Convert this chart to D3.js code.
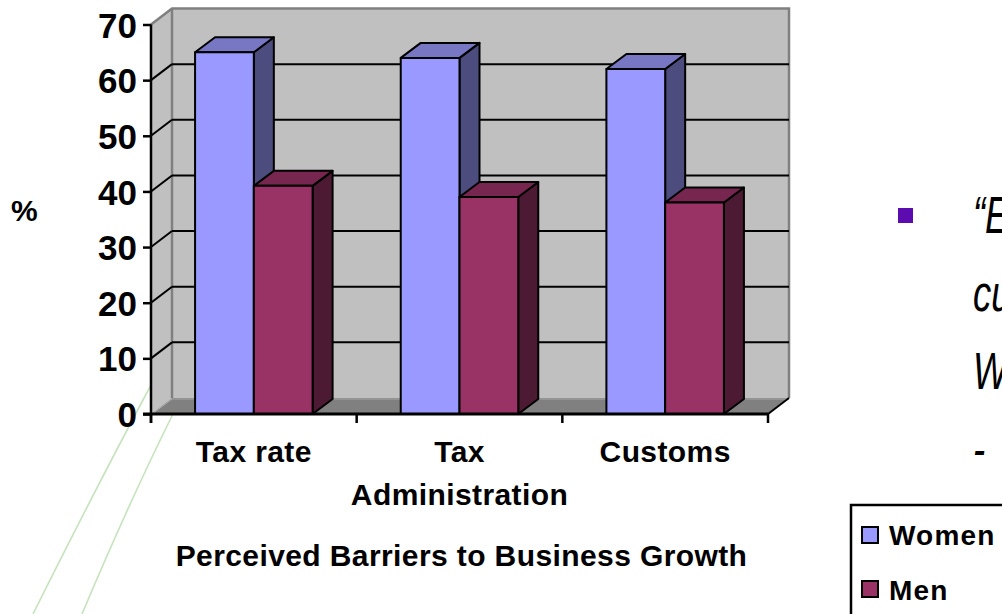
<!DOCTYPE html>
<html>
<head>
<meta charset="utf-8">
<script src="https://cdn.jsdelivr.net/npm/d3@7"></script>
<style>
  body { margin: 0; background: #fff; }
  text { font-family: Arial, "Liberation Sans", sans-serif; }
</style>
</head>
<body>
<svg></svg>
<script>
const categories = ['Tax rate', 'Tax\nAdministration', 'Customs'];
const series = ['Women', 'Men'];
const women = [65, 64, 62];
const men = [41, 39, 38];
const yTicks = [0, 10, 20, 30, 40, 50, 60, 70];
const quoteLines = ['\u201cE', 'cu', 'W', '- '];

const width = 1002;
const height = 614;

const colors = {
  Women: { front: '#9999FF', top: '#7777C4', side: '#4C4C7E' },
  Men: { front: '#993366', top: '#772650', side: '#4C1A33' }
};

const svg = d3.select('svg')
  .attr('width', width)
  .attr('height', height);

// wall depth offset
const dx = 21, dy = -16;
// bar depth offset
const bdx = 20, bdy = -15;

const y = d3.scaleLinear().domain([0, 70]).range([414, 24.5]);
const x0 = d3.scaleBand().domain(categories).range([151, 768]);
const x1 = d3.scaleBand().domain(series).range([0, x0.bandwidth()]).paddingOuter(0.75);

const left = x0.range()[0], right = x0.range()[1];

// faint decorative curves of the slide (run behind the walls)
const deco = svg.append('g').attr('fill', 'none').attr('stroke', '#c6e3bd').attr('stroke-width', 1.6);
deco.append('path').attr('d', 'M33,614 Q95,490 143,400 T170,340');
deco.append('path').attr('d', 'M82,614 Q128,505 170,420 T190,380');

// side wall
svg.append('polygon')
  .attr('points', [[left, y(0)], [left, y(70)], [left + dx, y(70) + dy], [left + dx, y(0) + dy]].join(' '))
  .attr('fill', '#C0C0C0');

// back wall
svg.append('rect')
  .attr('x', left + dx)
  .attr('y', y(70) + dy)
  .attr('width', right - left)
  .attr('height', y(0) - y(70))
  .attr('fill', '#C0C0C0');

// floor
svg.append('polygon')
  .attr('points', [[left, y(0)], [right, y(0)], [right + dx, y(0) + dy], [left + dx, y(0) + dy]].join(' '))
  .attr('fill', '#808080');
svg.append('line')
  .attr('x1', left + dx).attr('x2', right + dx)
  .attr('y1', y(0) + dy + 1).attr('y2', y(0) + dy + 1)
  .attr('stroke', '#a8a8a8').attr('stroke-width', 1);
svg.append('line')
  .attr('x1', left + 1).attr('y1', y(0))
  .attr('x2', left + dx).attr('y2', y(0) + dy + 1)
  .attr('stroke', '#b0b0b0').attr('stroke-width', 1);

// wall edges
svg.append('path')
  .attr('d', `M${left},${y(70)} L${left + dx},${y(70) + dy} L${right + dx},${y(70) + dy} L${right + dx},${y(0) + dy}`
    + ` M${left + dx},${y(70) + dy} L${left + dx},${y(0) + dy}`)
  .attr('fill', 'none')
  .attr('stroke', '#808080')
  .attr('stroke-width', 2.5);

// gridlines
const grid = svg.append('g').attr('stroke', '#000').attr('stroke-width', 2);
grid.selectAll('.gb')
  .data(yTicks.filter(t => t > 0 && t < 70))
  .enter().append('line')
    .attr('x1', left + dx).attr('x2', right + dx)
    .attr('y1', d => y(d) + dy).attr('y2', d => y(d) + dy);
grid.selectAll('.gs')
  .data(yTicks.filter(t => t > 0 && t < 70))
  .enter().append('line')
    .attr('x1', left).attr('x2', left + dx)
    .attr('y1', d => y(d)).attr('y2', d => y(d) + dy);

// bars
const rows = [];
categories.forEach((c, i) => {
  rows.push({ cat: c, s: 'Women', v: women[i] });
  rows.push({ cat: c, s: 'Men', v: men[i] });
});

const bars = svg.append('g')
  .attr('stroke', '#000')
  .attr('stroke-width', 2)
  .attr('stroke-linejoin', 'round');

rows.forEach(d => {
  const xl = x0(d.cat) + x1(d.s);
  const xr = xl + x1.bandwidth();
  const yt = y(d.v), yb = y(0);
  const g = bars.append('g');
  g.append('polygon')
    .attr('points', [[xr, yt], [xr + bdx, yt + bdy], [xr + bdx, yb + bdy], [xr, yb]].join(' '))
    .attr('fill', colors[d.s].side);
  g.append('polygon')
    .attr('points', [[xl, yt], [xl + bdx, yt + bdy], [xr + bdx, yt + bdy], [xr, yt]].join(' '))
    .attr('fill', colors[d.s].top);
  g.append('rect')
    .attr('x', xl).attr('y', yt)
    .attr('width', xr - xl).attr('height', yb - yt)
    .attr('fill', colors[d.s].front);
});

// floor right edge
svg.append('line')
  .attr('x1', right).attr('y1', y(0))
  .attr('x2', right + dx).attr('y2', y(0) + dy)
  .attr('stroke', '#000').attr('stroke-width', 2);

// y axis
const yAxis = svg.append('g')
  .attr('transform', `translate(${left},0)`)
  .call(d3.axisLeft(y).tickValues(yTicks).tickSize(8).tickSizeOuter(0).tickPadding(6));
yAxis.select('.domain').remove();
yAxis.selectAll('line').attr('stroke', '#000').attr('stroke-width', 2.5);
yAxis.selectAll('text')
  .attr('font-size', 35)
  .attr('font-weight', 'bold')
  .attr('fill', '#000')
  .attr('dy', '0.36em');
svg.append('line')
  .attr('x1', left).attr('x2', left)
  .attr('y1', y(70)).attr('y2', y(0) + 9)
  .attr('stroke', '#000').attr('stroke-width', 2.5);

// x axis
svg.append('line')
  .attr('x1', left - 8).attr('x2', right)
  .attr('y1', y(0)).attr('y2', y(0))
  .attr('stroke', '#000').attr('stroke-width', 3);
svg.append('g').selectAll('line')
  .data(categories.map(c => x0(c)).concat([right]))
  .enter().append('line')
    .attr('x1', d => d).attr('x2', d => d)
    .attr('y1', y(0)).attr('y2', y(0) + 9)
    .attr('stroke', '#000').attr('stroke-width', 2.5);

const catLabels = svg.append('g')
  .attr('font-size', 30)
  .attr('font-weight', 'bold')
  .attr('letter-spacing', 0.4)
  .attr('text-anchor', 'middle');
categories.forEach(c => {
  const t = catLabels.append('text')
    .attr('x', x0(c) + x0.bandwidth() / 2)
    .attr('y', 462);
  c.split('\n').forEach((line, i) => {
    t.append('tspan')
      .attr('x', x0(c) + x0.bandwidth() / 2)
      .attr('dy', i === 0 ? 0 : 43)
      .text(line);
  });
});

// axis titles
svg.append('text')
  .attr('x', (left + right) / 2 + 2)
  .attr('y', 566)
  .attr('text-anchor', 'middle')
  .attr('font-size', 30)
  .attr('font-weight', 'bold')
  .attr('letter-spacing', 0.4)
  .text('Perceived Barriers to Business Growth');

svg.append('text')
  .attr('x', 11)
  .attr('y', 221)
  .attr('font-size', 30)
  .attr('font-weight', 'bold')
  .text('%');

// bullet text on the right, cut by the edge as in the slide
svg.append('rect')
  .attr('x', 898).attr('y', 208)
  .attr('width', 15).attr('height', 15)
  .attr('fill', '#5B0BAE');

quoteLines.forEach((line, i) => {
  svg.append('text')
    .attr('transform', `translate(973,${233 + i * 78}) scale(0.7,1)`)
    .attr('font-family', '"DejaVu Sans", sans-serif')
    .attr('font-style', 'italic')
    .attr('font-size', 52)
    .attr('fill', '#000')
    .text(line);
});

// legend
const legend = svg.append('g');
legend.append('rect')
  .attr('x', 851).attr('y', 505)
  .attr('width', 200).attr('height', 160)
  .attr('fill', '#fff')
  .attr('stroke', '#000')
  .attr('stroke-width', 2.5);
series.forEach((s, i) => {
  legend.append('rect')
    .attr('x', 862).attr('y', 527 + i * 54)
    .attr('width', 16).attr('height', 16)
    .attr('fill', colors[s].front)
    .attr('stroke', '#000')
    .attr('stroke-width', 2);
  legend.append('text')
    .attr('x', 889).attr('y', 545 + i * 55)
    .attr('font-size', 28)
    .attr('font-weight', 'bold')
    .attr('letter-spacing', 1.2)
    .text(s);
});
</script>
</body>
</html>
